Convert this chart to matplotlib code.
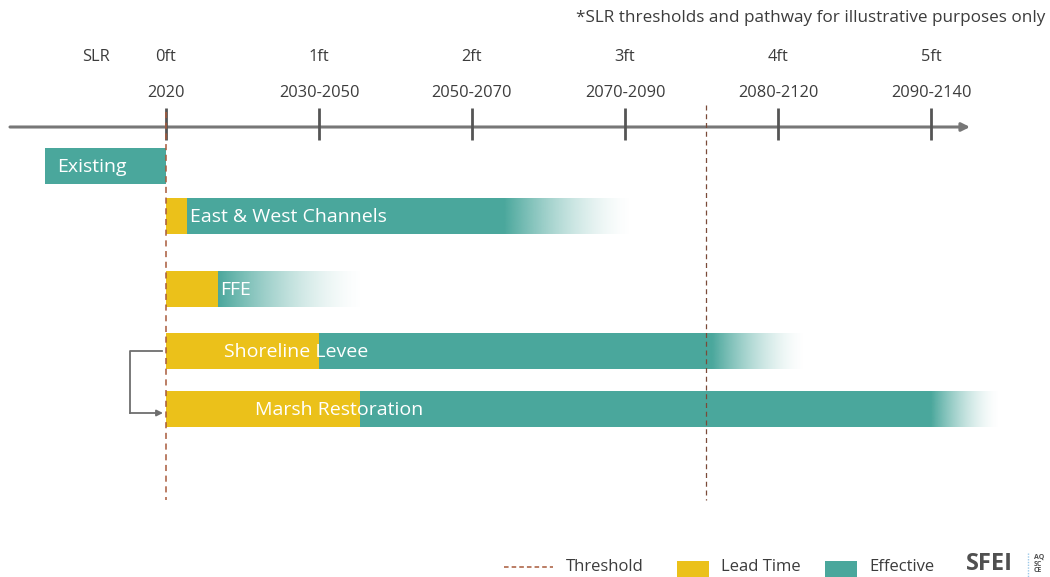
import numpy as np
import matplotlib
matplotlib.use("Agg")
import matplotlib.pyplot as plt
from matplotlib.colors import to_rgb

# ---------------- data ----------------
projects = ["Existing", "East & West Channels", "FFE", "Shoreline Levee", "Marsh Restoration"]
bar_start = [-0.79, 0.0, 0.0, 0.0, 0.0]          # ft of SLR
lead_end = [-0.79, 0.14, 0.34, 1.0, 1.27]        # end of lead time
solid_end = [0.0, 2.21, 0.34, 3.57, 5.0]         # end of fully effective period
fade_end = [0.0, 3.05, 1.30, 4.18, 5.45]         # end of fading effectiveness

slr_levels = [0, 1, 2, 3, 4, 5]
slr_labels = ["0ft", "1ft", "2ft", "3ft", "4ft", "5ft"]
year_labels = ["2020", "2030-2050", "2050-2070", "2070-2090", "2080-2120", "2090-2140"]
threshold_ft = 3.53

# ---------------- style ----------------
TEAL = "#4AA79C"
YELLOW = "#EBC11A"
BROWN = "#A85A3A"
DARK = "#3C3C3C"
GRAY = "#6E6E6E"

NARROW = ["Liberation Sans Narrow", "Open Sans", "DejaVu Sans"]
REG = ["Open Sans", "DejaVu Sans"]

W, H = 1050, 577
fig = plt.figure(figsize=(W / 100, H / 100), dpi=100)
ax = fig.add_axes([0, 0, 1, 1])
px_per_ft = 153.0
x0px = 166.0
ax.set_xlim((0 - x0px) / px_per_ft, (W - x0px) / px_per_ft)
ax.set_ylim(H, 0)
ax.axis("off")

def fx(px):
    return (px - x0px) / px_per_ft

# bar rows (pixel vertical layout)
bar_y = [166, 216, 289, 351, 409]
bar_h = 36

# timeline axis
axis_y = 127
ax.annotate("", xy=(fx(970), axis_y), xytext=(fx(10), axis_y),
            arrowprops=dict(arrowstyle="-|>", color="#777777", lw=2.2,
                            mutation_scale=12, shrinkA=0, shrinkB=0), zorder=3)
for lv in slr_levels:
    ax.plot([lv, lv], [108, 140], color="#555555", lw=2.0, zorder=4,
            solid_capstyle="butt")

for lv, s, yl in zip(slr_levels, slr_labels, year_labels):
    ax.text(lv, 57, s, ha="center", va="center", fontsize=11.8, color=DARK, family=NARROW)
    ax.text(lv, 93, yl, ha="center", va="center", fontsize=11.8, color=DARK, family=NARROW)
ax.text(fx(96), 57, "SLR", ha="center", va="center", fontsize=11.8, color=DARK, family=NARROW)
ax.text(fx(1045), 18, "*SLR thresholds and pathway for illustrative purposes only",
        ha="right", va="center", fontsize=12.3, color=DARK, family=NARROW)

# vertical reference lines
ax.plot([0, 0], [112, 500], color=BROWN, lw=1.1, ls=(0, (4, 3)), zorder=5)
ax.plot([threshold_ft, threshold_ft], [105, 500], color="#7A4A38", lw=0.9,
        ls=(0, (4, 3)), zorder=5)

# bars
teal_rgb = np.array(to_rgb(TEAL))
for i, name in enumerate(projects):
    yc = bar_y[i]
    top, bot = yc - bar_h / 2, yc + bar_h / 2
    if lead_end[i] > bar_start[i]:
        ax.barh(yc, lead_end[i] - bar_start[i], left=bar_start[i], height=bar_h,
                color=YELLOW, zorder=2, linewidth=0)
    if solid_end[i] > lead_end[i]:
        ax.barh(yc, solid_end[i] - lead_end[i], left=lead_end[i], height=bar_h,
                color=TEAL, zorder=2, linewidth=0)
    if fade_end[i] > solid_end[i]:
        n = 256
        a = np.linspace(1, 0, n) ** 1.6
        img = np.zeros((2, n, 4))
        img[:, :, :3] = teal_rgb
        img[:, :, 3] = a
        ax.imshow(img, extent=(solid_end[i], fade_end[i], bot, top), aspect="auto",
                  interpolation="bilinear", zorder=2)

# bar labels
label_x = [fx(57), fx(190), fx(220), fx(224), fx(255)]
for i, name in enumerate(projects):
    ax.text(label_x[i], bar_y[i] + 1, name, ha="left", va="center", fontsize=14,
            color="white", family=REG, zorder=6)

# bracket arrow between Shoreline Levee and Marsh Restoration
ax.plot([fx(162), fx(130), fx(130)], [bar_y[3], bar_y[3], bar_y[4] + 4],
        color=GRAY, lw=1.3, zorder=3)
ax.annotate("", xy=(fx(163), bar_y[4] + 4), xytext=(fx(130), bar_y[4] + 4),
            arrowprops=dict(arrowstyle="-|>", color=GRAY, lw=1.3, mutation_scale=9,
                            shrinkA=0, shrinkB=0), zorder=3)

# legend
ly = 567
ax.plot([fx(504), fx(553)], [ly, ly], color=BROWN, lw=1.1, ls=(0, (3, 2)))
ax.text(fx(566), ly, "Threshold", ha="left", va="center", fontsize=12, color=DARK, family=REG)
ax.barh(ly + 4, fx(709) - fx(677), left=fx(677), height=20, color=YELLOW, linewidth=0)
ax.text(fx(721), ly, "Lead Time", ha="left", va="center", fontsize=12, color=DARK, family=REG)
ax.barh(ly + 4, fx(857) - fx(825), left=fx(825), height=20, color=TEAL, linewidth=0)
ax.text(fx(869), ly, "Effective", ha="left", va="center", fontsize=12, color=DARK, family=REG)

# logo
ax.text(fx(966), 564, "SFEI", ha="left", va="center", fontsize=17, fontweight="bold",
        color="#505050", family=NARROW)
ax.plot([fx(1028), fx(1028)], [553, 577], color="#9CC8E8", lw=1.0, ls=(0, (1, 1)))
for k, t in enumerate(["AQ", "SC", "CE"]):
    ax.text(fx(1034), 557 + k * 7, t, ha="left", va="center", fontsize=5,
            fontweight="bold", color="#505050", family=NARROW)

fig.savefig("out.png", dpi=100)
